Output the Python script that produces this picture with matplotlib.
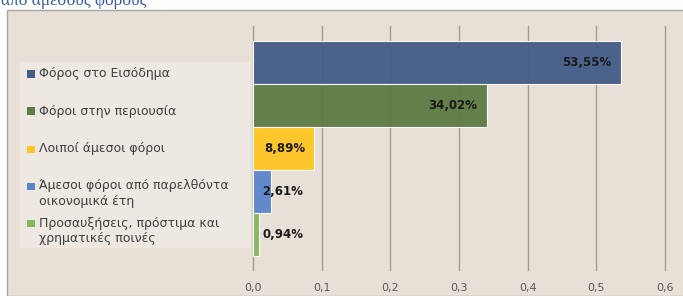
import matplotlib
matplotlib.use("Agg")
import matplotlib.pyplot as plt
from matplotlib.patches import Rectangle

categories = ["Φόρος στο Εισόδημα", "Φόροι στην περιουσία", "Λοιποί άμεσοι φόροι",
              "Άμεσοι φόροι από παρελθόντα\nοικονομικά έτη",
              "Προσαυξήσεις, πρόστιμα και\nχρηματικές ποινές"]
values = [0.5355, 0.3402, 0.0889, 0.0261, 0.0094]
value_labels = ["53,55%", "34,02%", "8,89%", "2,61%", "0,94%"]
colors = ["#445E88", "#5E7C44", "#FFC526", "#5C86CB", "#84B75C"]
xticks = [0.0, 0.1, 0.2, 0.3, 0.4, 0.5, 0.6]
xtick_labels = ["0,0", "0,1", "0,2", "0,3", "0,4", "0,5", "0,6"]
title = "από άμεσους φόρους"

W, H = 683, 296
fig = plt.figure(figsize=(W / 100, H / 100), dpi=100)
fig.patch.set_facecolor("white")

def fx(px):
    return px / W

def fy(py):
    return 1 - py / H

# outer chart frame
fig.patches.append(Rectangle((fx(7), 0), 1 - fx(7) + 0.01, fy(10), transform=fig.transFigure,
                             facecolor="#E8E0D6", edgecolor="#A8A8A8", linewidth=1.0, zorder=-2))

fig.text(fx(1), fy(5), title, fontsize=12.5, color="#3B5DA8", family="Liberation Serif",
         va="baseline", ha="left")

ax = fig.add_axes([fx(253), fy(270), fx(665) - fx(253), fy(26) - fy(270)])
ax.set_zorder(2)
ax.set_facecolor("none")
y = list(range(len(categories)))
ax.barh(y, values, height=1.0, color=colors, edgecolor=(1, 1, 1, 0.35), linewidth=0.8, zorder=3, alpha=0.96)
ax.set_ylim(4.5 + 0.33, -0.5 - 0.35)
ax.set_xlim(0, 0.6)
ax.set_xticks(xticks)
ax.set_xticklabels(xtick_labels, fontsize=8, color="#595959")
ax.set_yticks([])
ax.tick_params(axis="x", length=0, pad=9)
for s in ax.spines.values():
    s.set_visible(False)
for xv in xticks:
    ax.axvline(xv, color="#A39C95", linewidth=1.0, zorder=2, clip_on=False)

for i, (v, lab) in enumerate(zip(values, value_labels)):
    if v > 0.08:
        ax.text(v - 0.013, i, lab, ha="right", va="center", fontsize=8.5, fontweight="bold",
                color="#1A1A1A", zorder=5)
    else:
        ax.text(0.014, i, lab, ha="left", va="center", fontsize=8.5, fontweight="bold",
                color="#1A1A1A", zorder=5)

# legend
fig.patches.append(Rectangle((fx(20), fy(248)), fx(250) - fx(20), fy(62) - fy(248),
                             transform=fig.transFigure, facecolor="#EDE8E1", edgecolor="none", zorder=1))
marker_y = [74, 111, 149, 186, 223]
for cat, col, my in zip(categories, colors, marker_y):
    fig.patches.append(Rectangle((fx(27), fy(my + 3.5)), fx(8), 7 / H, transform=fig.transFigure,
                                 facecolor=col, edgecolor="none", zorder=2))
    fig.text(fx(39), fy(my - 6.5), cat, fontsize=9, color="#404040", va="top", ha="left",
             linespacing=1.25, zorder=3)

fig.savefig("out.png", dpi=100)
